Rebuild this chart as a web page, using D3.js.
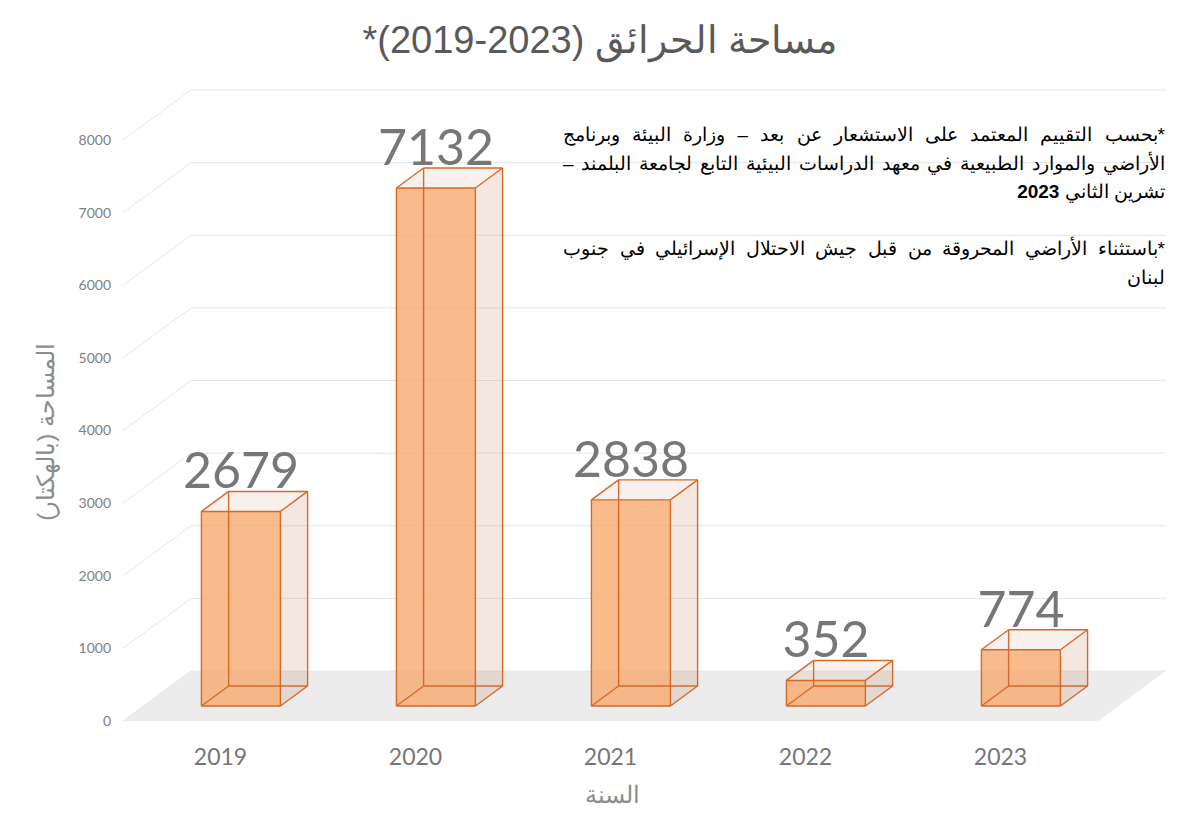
<!DOCTYPE html>
<html lang="ar">
<head>
    <meta charset="UTF-8">
    <title>مساحة الحرائق</title>
    <script src="https://d3js.org/d3.v7.min.js"></script>
    <style>
        body { margin: 0; background: white; }
    </style>
</head>
<body>
    <svg id="svg1" width="1200" height="840" style="background: white"></svg>

    <script>
        // data ------------------------------------------------------------------
        const years = ["2019", "2020", "2021", "2022", "2023"];
        const burnedArea = [2679, 7132, 2838, 352, 774];          // hectares
        const yTicks = [0, 1000, 2000, 3000, 4000, 5000, 6000, 7000, 8000];

        // the year range is isolated so it keeps its left-to-right order
        const chartTitle = "مساحة الحرائق (\u20662019-2023\u2069)*";
        const xTitle = "السنة";
        const yTitle = "المساحة (بالهكتار)";
        const noteLines = [
            "*بحسب التقييم المعتمد على الاستشعار عن بعد – وزارة البيئة وبرنامج",
            "الأراضي والموارد الطبيعية في معهد الدراسات البيئية التابع لجامعة البلمند –",
            "تشرين الثاني 2023",
            "",
            "*باستثناء الأراضي المحروقة من قبل جيش الاحتلال الإسرائيلي في جنوب",
            "لبنان"
        ];
        const justified = [true, true, false, false, true, false];

        // layout ----------------------------------------------------------------
        const svg = d3.select("svg#svg1");
        const front = {left: 123, right: 1098, bottom: 721, top: 140};
        const depth = {dx: 68, dy: -50};          // oblique offset of the floor's back edge
        const barDepth = [0.30, 0.70];             // bar sits in the middle of the floor depth
        const barRatio = 0.405;                    // bar width / band width

        const x = d3.scaleBand().domain(years).range([front.left, front.right]);
        const y = d3.scaleLinear().domain([0, 8000]).range([front.bottom, front.top]);
        const dX = d3.scaleLinear().domain([0, 1]).range([0, depth.dx]);
        const dY = d3.scaleLinear().domain([0, 1]).range([0, depth.dy]);

        // project (x position, value, depth fraction) to screen
        const P = (px, v, f) => [px + dX(f), y(v) + dY(f)];

        const frame = svg.append("g").attr("id", "frame");
        const chart = svg.append("g").attr("id", "chart");

        // floor
        frame.append("polygon")
            .attr("points", [P(front.left, 0, 0), P(front.right, 0, 0), P(front.right, 0, 1), P(front.left, 0, 1)].join(" "))
            .attr("fill", "#ececec");

        // gridlines: front-left -> back-left -> back-right
        frame.selectAll("path.grid")
            .data(yTicks)
            .join("path")
            .attr("class", "grid")
            .attr("d", d => d3.line()([P(front.left, d, 0), P(front.left, d, 1), P(front.right, d, 1)]))
            .attr("fill", "none")
            .attr("stroke", "#e6e6e6")
            .attr("stroke-width", 1);

        // tick labels
        frame.selectAll("text.tick")
            .data(yTicks)
            .join("text")
            .attr("class", "tick")
            .attr("x", front.left - 12)
            .attr("y", d => y(d))
            .attr("dy", "0.35em")
            .attr("text-anchor", "end")
            .attr("font-family", "Lato, 'Open Sans', sans-serif")
            .attr("font-size", 14)
            .attr("fill", "#808080")
            .text(d => d);

        // category labels
        frame.selectAll("text.cat")
            .data(years)
            .join("text")
            .attr("class", "cat")
            .attr("x", d => x(d) + x.bandwidth() / 2)
            .attr("y", 765)
            .attr("text-anchor", "middle")
            .attr("font-family", "Lato, 'Open Sans', sans-serif")
            .attr("font-size", 23)
            .attr("fill", "#767676")
            .text(d => d);

        // bars ------------------------------------------------------------------
        const bars = years.map((yr, i) => {
            const w = x.bandwidth() * barRatio;
            const x0 = x(yr) + (x.bandwidth() - w) / 2;
            return {year: yr, value: burnedArea[i], x0: x0, x1: x0 + w};
        });

        const edge = "#d4692a";
        bars.forEach(b => {
            const [f0, f1] = barDepth;
            const c = {
                flb: P(b.x0, 0, f0), frb: P(b.x1, 0, f0), frt: P(b.x1, b.value, f0), flt: P(b.x0, b.value, f0),
                blb: P(b.x0, 0, f1), brb: P(b.x1, 0, f1), brt: P(b.x1, b.value, f1), blt: P(b.x0, b.value, f1)
            };
            const g = chart.append("g").attr("class", "bar");

            // side and top faces, pale and see-through
            g.append("polygon")
                .attr("points", [c.frb, c.brb, c.brt, c.frt].join(" "))
                .attr("fill", "rgb(190,110,70)").attr("fill-opacity", 0.17);
            g.append("polygon")
                .attr("points", [c.flt, c.frt, c.brt, c.blt].join(" "))
                .attr("fill", "rgb(190,110,70)").attr("fill-opacity", 0.10);
            // front face
            g.append("polygon")
                .attr("points", [c.flb, c.frb, c.frt, c.flt].join(" "))
                .attr("fill", "#f7a96f").attr("fill-opacity", 0.8);

            // all twelve edges, hidden ones included
            const edges = [
                [c.flb, c.frb], [c.frb, c.frt], [c.frt, c.flt], [c.flt, c.flb],
                [c.blb, c.brb], [c.brb, c.brt], [c.brt, c.blt], [c.blt, c.blb],
                [c.flb, c.blb], [c.frb, c.brb], [c.frt, c.brt], [c.flt, c.blt]
            ];
            g.selectAll("line")
                .data(edges)
                .join("line")
                .attr("x1", d => d[0][0]).attr("y1", d => d[0][1])
                .attr("x2", d => d[1][0]).attr("y2", d => d[1][1])
                .attr("stroke", edge)
                .attr("stroke-width", 1.4);

            // value label
            g.append("text")
                .attr("x", (c.flt[0] + c.frt[0]) / 2)
                .attr("y", c.blt[1] - 3)
                .attr("text-anchor", "middle")
                .attr("font-family", "Lato, 'Open Sans', sans-serif")
                .attr("font-size", 50)
                .attr("fill", "#777777")
                .text(b.value);
        });

        // titles ----------------------------------------------------------------
        svg.append("text")
            .attr("x", 600).attr("y", 53)
            .attr("direction", "rtl")
            .attr("text-anchor", "middle")
            .attr("font-family", "'Liberation Sans', Arial, sans-serif")
            .attr("font-size", 38)
            .attr("fill", "#595959")
            .text(chartTitle);

        svg.append("text")
            .attr("x", 612).attr("y", 803)
            .attr("direction", "rtl")
            .attr("text-anchor", "middle")
            .attr("font-family", "'Liberation Sans', Arial, sans-serif")
            .attr("font-size", 24)
            .attr("fill", "#8c8c8c")
            .text(xTitle);

        svg.append("text")
            .attr("transform", "translate(54, 432) rotate(-90)")
            .attr("direction", "rtl")
            .attr("text-anchor", "middle")
            .attr("font-family", "'Liberation Sans', Arial, sans-serif")
            .attr("font-size", 24)
            .attr("fill", "#8c8c8c")
            .text(yTitle);

        // notes, right aligned, some lines justified -----------------------------
        const noteRight = 1165, noteWidth = 602;
        noteLines.forEach((line, i) => {
            if (!line) return;
            const t = svg.append("text")
                .attr("x", noteRight)
                .attr("y", 141 + i * 28.5)
                .attr("direction", "rtl")
                .attr("text-anchor", "start")
                .attr("font-family", "'Liberation Sans', Arial, sans-serif")
                .attr("font-size", 19)
                .attr("fill", "#000");
            const parts = line.split(/(\d{4})$/).filter(s => s !== "");
            parts.forEach(p => {
                t.append("tspan")
                    .attr("font-weight", /^\d{4}$/.test(p) ? "bold" : null)
                    .text(p);
            });
            if (justified[i]) {
                const len = t.node().getComputedTextLength();
                const gaps = (line.match(/ /g) || []).length;
                if (gaps > 0 && len < noteWidth) t.style("word-spacing", ((noteWidth - len) / gaps) + "px");
            }
        });
    </script>
</body>
</html>
